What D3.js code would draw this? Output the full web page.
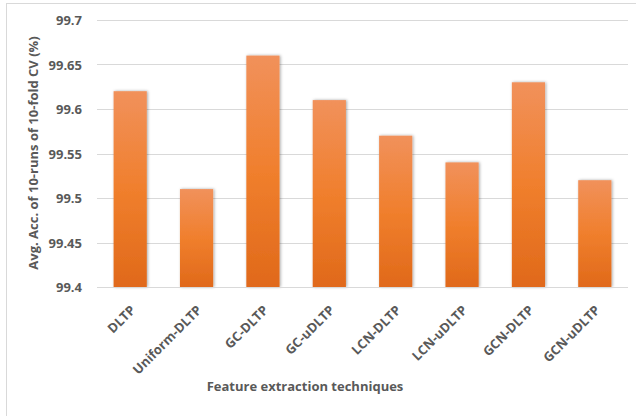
<!DOCTYPE html>
<html>
<head>
<meta charset="utf-8">
<script src="https://cdn.jsdelivr.net/npm/d3@7"></script>
<style>
  html, body { margin: 0; padding: 0; background: #fff; }
  svg { display: block; }
  text { font-family: "Open Sans", Lato, sans-serif; font-weight: bold; fill: #595959; }
</style>
</head>
<body>
<svg id="chart" width="636" height="416"></svg>
<script>
// Feature extraction techniques and their mean accuracy (%)
const categories = ["DLTP", "Uniform-DLTP", "GC-DLTP", "GC-uDLTP", "LCN-DLTP", "LCN-uDLTP", "GCN-DLTP", "GCN-uDLTP"];
const accuracy = [99.62, 99.51, 99.66, 99.61, 99.57, 99.54, 99.63, 99.52];
const yTicks = [99.4, 99.45, 99.5, 99.55, 99.6, 99.65, 99.7];
const yTitle = "Avg. Acc. of 10-runs of 10-fold CV (%)";
const xTitle = "Feature extraction techniques";

const FONT = "'Open Sans', Lato, sans-serif";
const FS = 13;

const svg = d3.select("#chart");
const W = 636, H = 416;
const plot = { left: 97, right: 628, top: 20, bottom: 287 };

// chart area border
svg.append("rect")
  .attr("x", 6.5).attr("y", 3.5)
  .attr("width", W + 10).attr("height", H + 10)
  .attr("fill", "none").attr("stroke", "#d9d9d9");

const defs = svg.append("defs");
const grad = defs.append("linearGradient")
  .attr("id", "barFill").attr("x1", 0).attr("y1", 0).attr("x2", 0).attr("y2", 1);
grad.append("stop").attr("offset", "0%").attr("stop-color", "#f1915b");
grad.append("stop").attr("offset", "50%").attr("stop-color", "#f07f2d");
grad.append("stop").attr("offset", "100%").attr("stop-color", "#e0691a");

const shadow = defs.append("filter").attr("id", "barShadow")
  .attr("x", "-30%").attr("y", "-10%").attr("width", "160%").attr("height", "120%");
shadow.append("feDropShadow")
  .attr("dx", 1).attr("dy", 0).attr("stdDeviation", 1.6)
  .attr("flood-color", "#000").attr("flood-opacity", 0.35);

const x = d3.scaleBand()
  .domain(categories)
  .range([plot.left, plot.right])
  .paddingInner(0.5).paddingOuter(0.25);

const y = d3.scaleLinear()
  .domain([99.4, 99.7])
  .range([plot.bottom, plot.top]);

// horizontal gridlines
svg.append("g")
  .selectAll("line")
  .data(yTicks)
  .join("line")
  .attr("x1", plot.left).attr("x2", plot.right)
  .attr("y1", d => Math.round(y(d)) + 0.5).attr("y2", d => Math.round(y(d)) + 0.5)
  .attr("stroke", "#d9d9d9").attr("stroke-width", 1);

// y axis labels
const yAxis = d3.axisLeft(y).tickValues(yTicks).tickFormat(d3.format("")).tickSize(0).tickPadding(0);
const gy = svg.append("g").attr("transform", `translate(82,0)`).call(yAxis);
gy.select(".domain").remove();
gy.selectAll("text")
  .attr("font-size", FS)
  .attr("font-family", FONT)
  .attr("font-weight", "bold")
  .attr("fill", "#595959")
  .attr("dy", "0.35em");

// bars
svg.append("g")
  .selectAll("rect")
  .data(categories)
  .join("rect")
  .attr("x", d => x(d))
  .attr("width", x.bandwidth())
  .attr("y", (d, i) => y(accuracy[i]))
  .attr("height", (d, i) => y(99.4) - y(accuracy[i]))
  .attr("fill", "url(#barFill)")
  .attr("filter", "url(#barShadow)");

// baseline
svg.append("line")
  .attr("x1", plot.left).attr("x2", plot.right)
  .attr("y1", Math.round(y(99.4)) + 0.5).attr("y2", Math.round(y(99.4)) + 0.5)
  .attr("stroke", "#d9d9d9");

// x axis labels rotated
const xAxis = d3.axisBottom(x).tickSize(0).tickPadding(0);
const gx = svg.append("g").attr("transform", `translate(0,${plot.bottom})`).call(xAxis);
gx.select(".domain").remove();
gx.selectAll("text")
  .attr("font-size", FS)
  .attr("font-family", FONT)
  .attr("font-weight", "bold")
  .attr("fill", "#595959")
  .attr("text-anchor", "end")
  .attr("dy", null).attr("y", 0)
  .attr("transform", "translate(6,24) rotate(-45)");

// axis titles
svg.append("text")
  .attr("transform", `translate(38,153) rotate(-90)`)
  .attr("text-anchor", "middle")
  .attr("font-size", FS)
  .text(yTitle);

svg.append("text")
  .attr("x", 305).attr("y", 391)
  .attr("text-anchor", "middle")
  .attr("font-size", FS)
  .text(xTitle);
</script>
</body>
</html>
